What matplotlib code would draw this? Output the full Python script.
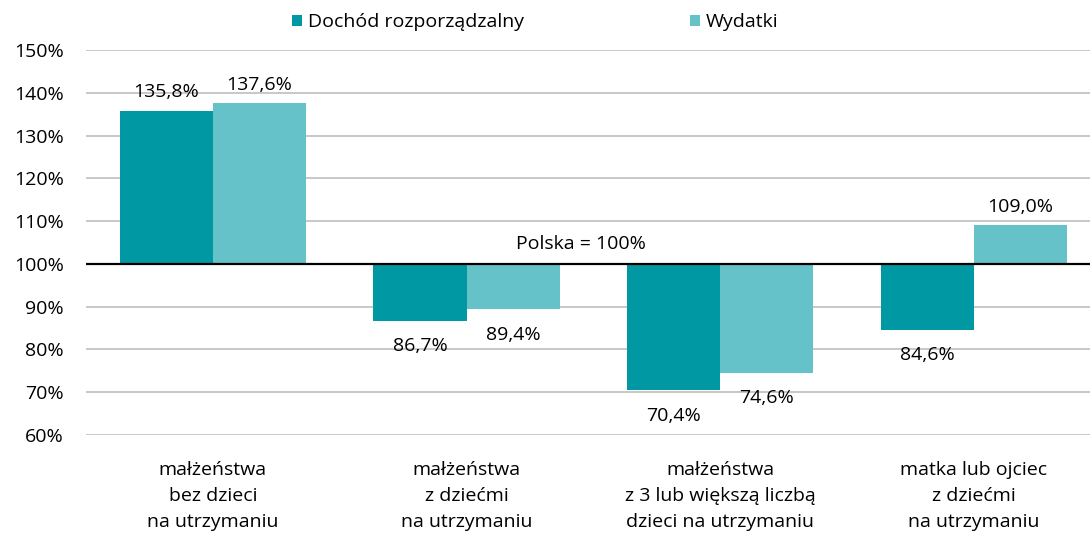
import numpy as np
import matplotlib.pyplot as plt

plt.rcParams['font.family'] = ['Open Sans', 'DejaVu Sans']

# Data
categories = ["małżeństwa\nbez dzieci\nna utrzymaniu",
              "małżeństwa\nz dziećmi\nna utrzymaniu",
              "małżeństwa\nz 3 lub większą liczbą\ndzieci na utrzymaniu",
              "matka lub ojciec\nz dziećmi\nna utrzymaniu"]
dochod = [135.8, 86.7, 70.4, 84.6]
wydatki = [137.6, 89.4, 74.6, 109.0]
series_names = ["Dochód rozporządzalny", "Wydatki"]
yticks = [60, 70, 80, 90, 100, 110, 120, 130, 140, 150]

c_dark = "#0099A3"
c_light = "#66C2C9"
base = 100
w = 0.367
fs = 14

fig = plt.figure(figsize=(10.9, 5.33), dpi=100)
ax = fig.add_axes([0.0789, 0.184, 0.931, 0.722])

x = np.arange(len(categories))
b1 = ax.bar(x - w / 2, np.array(dochod) - base, w, bottom=base, color=c_dark,
            label=series_names[0], zorder=2)
b2 = ax.bar(x + w / 2, np.array(wydatki) - base, w, bottom=base, color=c_light,
            label=series_names[1], zorder=2)

def fmt(v):
    return f"{v:.1f}%".replace(".", ",")

for bars, vals in ((b1, dochod), (b2, wydatki)):
    for rect, v in zip(bars, vals):
        cx = rect.get_x() + rect.get_width() / 2
        if v >= base:
            ax.text(cx, v + 4.3, fmt(v), ha="center", va="center", fontsize=fs)
        else:
            ax.text(cx, v - 6.0, fmt(v), ha="center", va="center", fontsize=fs)

ax.axhline(base, color="black", lw=1.6, zorder=3)
ax.text(1.45, base + 4.6, "Polska = 100%", ha="center", va="center", fontsize=fs)

ax.set_xlim(-0.5, 3.5)
ax.set_ylim(60, 150)
ax.set_yticks(yticks)
ax.set_yticklabels([f"{t}%" for t in yticks], fontsize=fs)
ax.set_xticks(x)
ax.set_xticklabels(categories, fontsize=fs, linespacing=1.55)
ax.tick_params(length=0)
ax.tick_params(axis="y", pad=16)
ax.tick_params(axis="x", pad=19)
ax.yaxis.grid(True, color="#BFBFBF", lw=1.2, zorder=0)
for s in ax.spines.values():
    s.set_visible(False)

fig.legend(loc="center", bbox_to_anchor=(0.491, 0.958), ncol=2, frameon=False,
           fontsize=fs, handlelength=0.55, handleheight=0.55, handletextpad=0.3,
           columnspacing=8.5)

plt.savefig("out.png", dpi=100)
